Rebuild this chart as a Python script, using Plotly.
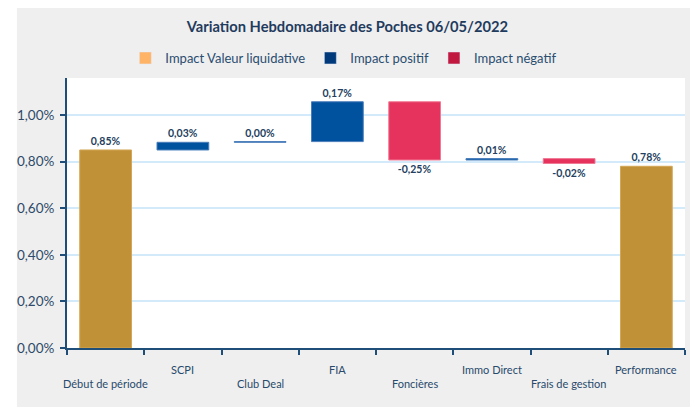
import plotly.graph_objects as go

# données (en %)
categories = ["Début de période", "SCPI", "Club Deal", "FIA", "Foncières",
              "Immo Direct", "Frais de gestion", "Performance"]
variations = [0.85, 0.033, 0.003, 0.171, -0.25, 0.006, -0.021, 0.78]
mesures = ["total", "relatif", "relatif", "relatif", "relatif", "relatif", "relatif", "total"]
legend_names = ["Impact Valeur liquidative", "Impact positif", "Impact négatif"]

GOLD = "#C09137"
BLUE = "#00519E"
RED = "#E5335E"
NAVY = "#1F3B5E"
AXIS = "#1F4E79"

# bases de la cascade
bases = []
colors = []
line_colors = []
cum = 0.0
for v, m in zip(variations, mesures):
    if m == "total":
        bases.append(0)
        cum = v
        colors.append(GOLD)
        line_colors.append("#D4A655")
    else:
        bases.append(cum)
        cum += v
        if v >= 0:
            colors.append(BLUE)
            line_colors.append("#4A7EBB")
        else:
            colors.append(RED)
            line_colors.append("#F07A95")

labels = [f"{v:.2f}%".replace(".", ",") for v in variations]

fig = go.Figure()
fig.add_trace(go.Bar(
    x=categories, y=variations, base=bases,
    marker=dict(color=colors, line=dict(color=line_colors, width=1)),
    width=0.67,
    text=labels, textposition="outside", cliponaxis=False,
    textfont=dict(family="Lato", size=10.5, color="#243F60", weight="bold"),
    showlegend=False, hoverinfo="skip",
))

# entrées de légende (couleurs de la légende d'origine)
for name, c in zip(legend_names, ["#FFB366", "#003A7A", "#C0183F"]):
    fig.add_trace(go.Bar(x=[None], y=[None], name=name, marker_color=c))

# libellés de l'axe x en quinconce
annotations = []
for i, cat in enumerate(categories):
    annotations.append(dict(
        x=cat, xref="x", yref="paper", y=-0.078 if i % 2 else -0.133,
        text=cat, showarrow=False, yanchor="middle",
        font=dict(family="Lato", size=11, color="#284A6C"),
    ))

fig.update_layout(
    width=699, height=407,
    margin=dict(l=67, r=14, t=78, b=59),
    paper_bgcolor="white",
    plot_bgcolor="rgba(0,0,0,0)",
    barmode="overlay",
    separators=", ",
    font=dict(family="Lato", color=NAVY),
    title=dict(text="<b>Variation Hebdomadaire des Poches 06/05/2022</b>",
               x=0.497, xanchor="center", y=0.934, yanchor="middle",
               font=dict(family="Lato", size=14.7, color=NAVY)),
    legend=dict(orientation="h", x=0.448, xanchor="center", y=1.074, yanchor="middle",
                font=dict(family="Lato", size=13, color="#2A4D70"),
                bgcolor="rgba(0,0,0,0)"),
    shapes=[
        dict(type="rect", xref="paper", yref="paper", x0=-0.081, x1=1.008, y0=-0.25, y1=1.259,
             fillcolor="#EFEFEF", line=dict(width=0), layer="below"),
        dict(type="rect", xref="paper", yref="paper", x0=0, x1=1, y0=0, y1=1,
             fillcolor="white", line=dict(width=0), layer="below"),
    ],
    annotations=annotations,
)

fig.update_xaxes(
    type="category", categoryorder="array", categoryarray=categories,
    range=[-0.5, len(categories) - 0.5],
    showticklabels=False, showgrid=False, automargin=False,
    ticks="outside", tickson="boundaries", ticklen=5, tickcolor=AXIS, tickwidth=2,
    showline=True, linecolor=AXIS, linewidth=2,
)
fig.update_yaxes(
    range=[0, 1.159], dtick=0.2, tick0=0, automargin=False,
    tickformat=".2f", ticksuffix="%",
    showgrid=True, gridcolor="#D3EAFA", gridwidth=1.6, zeroline=False,
    ticks="outside", ticklen=5, tickcolor=AXIS, tickwidth=2, ticklabelstandoff=3,
    showline=True, linecolor=AXIS, linewidth=2,
    tickfont=dict(family="Lato", size=13.5, color="#2E4A68"),
)

# la page html a une marge de 8px par défaut
fig.write_html("out.html", config={"displayModeBar": False},
               post_script="document.body.style.margin='0';")
